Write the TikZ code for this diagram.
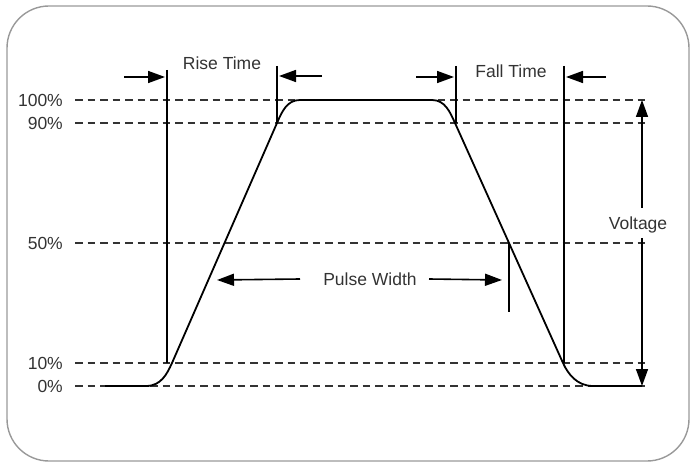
\documentclass[tikz,border=0pt]{standalone}
\usepackage{fontspec}
\setmainfont{Liberation Sans}
\usetikzlibrary{arrows.meta}
\definecolor{txt}{HTML}{333333}
\definecolor{frm}{HTML}{999999}
\begin{document}
\begin{tikzpicture}[x=1pt,y=-1pt,
  lbl/.style={font=\fontsize{17.5}{19}\selectfont, text=txt, inner sep=0pt},
  pct/.style={lbl, anchor=east},
  guide/.style={draw=txt, line width=1.2pt, dash pattern=on 7.5pt off 5pt},
  tick/.style={draw=black, line width=1.6pt},
  wave/.style={draw=black, line width=1.8pt, line join=round},
  arr/.style={draw=black, line width=1.6pt, -{Triangle[length=17pt,width=12pt]}}]
\useasboundingbox (0,0) rectangle (690,462);
\draw[frm, line width=1.4pt, rounded corners=42pt] (7,6) rectangle (689,461);
% levels
\foreach \n/\y/\t in {l100/100/100\%, l90/123/90\%, l50/243/50\%, l10/363/10\%, l0/386/0\%}{
  \node[pct] (\n) at (63,\y) {\t};
  \coordinate (\n a) at (75,\y);
  \coordinate (\n b) at (646,\y);
  \draw[guide] (\n a) -- (\n b);
}
% waveform
\draw[wave] (105,386) -- (146,386) .. controls (161,386) and (167,374) .. (172,363)
  -- (277,123) .. controls (282,111.5) and (287,100) .. (300,100)
  -- (432,100) .. controls (445,100) and (450,112) .. (455,123)
  -- (563,363) .. controls (568,374) and (577,386) .. (593,386) -- (642,386);
% rise time
\coordinate (r1t) at (167,70); \coordinate (r1b) at (167,363);
\coordinate (r2t) at (277,66); \coordinate (r2b) at (277,123);
\draw[tick] (r1t) -- (r1b);
\draw[tick] (r2t) -- (r2b);
\coordinate (ra1) at (124,77); \coordinate (ra2) at (165,77);
\coordinate (rb1) at (322,76); \coordinate (rb2) at (279,76);
\draw[arr] (ra1) -- (ra2);
\draw[arr] (rb1) -- (rb2);
\node[lbl] (rise) at (222,63) {Rise Time};
% fall time
\coordinate (f1t) at (456,66); \coordinate (f1b) at (456,123);
\coordinate (f2t) at (564,66); \coordinate (f2b) at (564,363);
\draw[tick] (f1t) -- (f1b);
\draw[tick] (f2t) -- (f2b);
\coordinate (fa1) at (416,77); \coordinate (fa2) at (454,77);
\coordinate (fb1) at (606,77); \coordinate (fb2) at (566,77);
\draw[arr] (fa1) -- (fa2);
\draw[arr] (fb1) -- (fb2);
\node[lbl] (fall) at (511,71) {Fall Time};
% pulse width
\node[lbl] (pw) at (370,279) {Pulse Width};
\coordinate (pwl) at (217,280); \coordinate (pwr) at (502,280);
\draw[arr] ([xshift=-70pt]pw.center) -- (pwl);
\draw[arr] ([xshift=59pt]pw.center) -- (pwr);
\coordinate (pt) at (509,243); \coordinate (pb) at (509,312);
\draw[tick] (pt) -- (pb);
% voltage
\node[lbl] (volt) at (638,225) {Voltage};
\coordinate (vt) at (642,100); \coordinate (vb) at (642,386);
\draw[arr] (642,208) -- (vt);
\draw[arr] (642,238) -- (vb);
\end{tikzpicture}
\end{document}
